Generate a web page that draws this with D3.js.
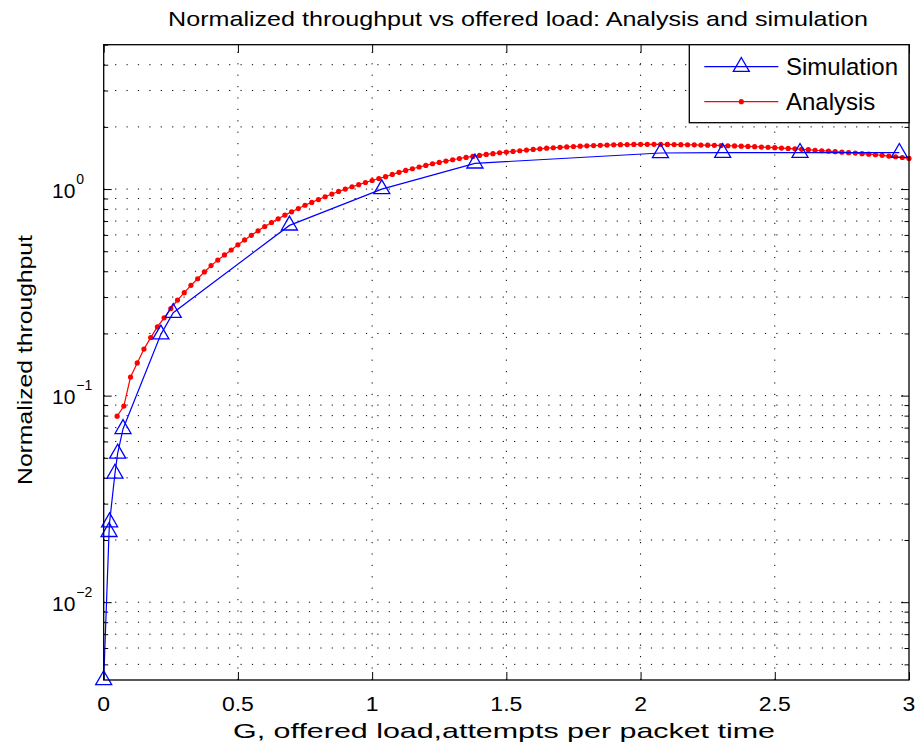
<!DOCTYPE html>
<html><head><meta charset="utf-8">
<script src="https://cdn.jsdelivr.net/npm/d3@7"></script>
<style>
body{margin:0;background:#fff;}
text{font-family:"Liberation Sans",Arial,Helvetica,sans-serif;fill:#000;}
</style></head><body>
<svg id="chart" width="919" height="748"></svg>
<script>
// Analysis curve: offered load G and normalized throughput S
const analysisG = [
  0.05,0.075,0.1,0.125,0.15,0.175,0.2,0.225,0.25,0.275,
  0.3,0.325,0.35,0.375,0.4,0.425,0.45,0.475,0.5,0.525,
  0.55,0.575,0.6,0.625,0.65,0.675,0.7,0.725,0.75,0.775,
  0.8,0.825,0.85,0.875,0.9,0.925,0.95,0.975,1.0,1.025,
  1.05,1.075,1.1,1.125,1.15,1.175,1.2,1.225,1.25,1.275,
  1.3,1.325,1.35,1.375,1.4,1.425,1.45,1.475,1.5,1.525,
  1.55,1.575,1.6,1.625,1.65,1.675,1.7,1.725,1.75,1.775,
  1.8,1.825,1.85,1.875,1.9,1.925,1.95,1.975,2.0,2.025,
  2.05,2.075,2.1,2.125,2.15,2.175,2.2,2.225,2.25,2.275,
  2.3,2.325,2.35,2.375,2.4,2.425,2.45,2.475,2.5,2.525,
  2.55,2.575,2.6,2.625,2.65,2.675,2.7,2.725,2.75,2.775,
  2.8,2.825,2.85,2.875,2.9,2.925,2.95,2.975,3.0
];
const analysisS = [
  0.0795,0.089,0.123,0.144,0.168,0.191,0.215,0.238,0.264,0.290,
  0.315,0.342,0.368,0.397,0.426,0.453,0.480,0.507,0.537,0.567,
  0.597,0.628,0.659,0.689,0.718,0.748,0.776,0.805,0.835,0.862,
  0.890,0.918,0.946,0.974,1.000,1.026,1.050,1.076,1.100,1.125,
  1.148,1.178,1.205,1.231,1.254,1.279,1.302,1.326,1.346,1.367,
  1.387,1.406,1.423,1.439,1.455,1.471,1.484,1.499,1.511,1.522,
  1.533,1.545,1.556,1.567,1.577,1.585,1.592,1.600,1.607,1.613,
  1.619,1.624,1.628,1.633,1.637,1.640,1.643,1.645,1.646,1.646,
  1.646,1.646,1.645,1.643,1.641,1.639,1.637,1.634,1.631,1.628,
  1.625,1.621,1.617,1.613,1.609,1.604,1.598,1.592,1.586,1.580,
  1.574,1.567,1.558,1.551,1.542,1.533,1.525,1.517,1.509,1.500,
  1.493,1.484,1.476,1.466,1.456,1.445,1.434,1.422,1.408
];

// Simulation results
const simG = [0, 0.020, 0.022, 0.042, 0.052, 0.072, 0.213, 0.259, 0.692, 1.036, 1.383, 2.074, 2.306, 2.594, 2.964];
const simS = [0.0042, 0.0219, 0.0244, 0.042, 0.0525, 0.069, 0.198, 0.252, 0.667, 1.0, 1.332, 1.495, 1.50, 1.50, 1.50];

const xTicks = [0, 0.5, 1, 1.5, 2, 2.5, 3];
const xTickLabels = ["0", "0.5", "1", "1.5", "2", "2.5", "3"];
const yMajor = [0.01, 0.1, 1];
const yMajorExp = ["\u22122", "\u22121", "0"];

const svg = d3.select("#chart");
svg.append("rect").attr("width", 919).attr("height", 748).attr("fill", "#fff");

const L = 103.7, R = 909, T = 44.7, B = 680;
const x = d3.scaleLinear().domain([0, 3]).range([L, R]);
const y = d3.scaleLog().domain([0.0042, 5]).range([B, T]);

const allY = y.ticks();                       // 1..9 x 10^n inside the domain
const minorY = allY.filter(v => !yMajor.some(m => Math.abs(m - v) < 1e-12));

// dotted grid
const grid = svg.append("g").attr("stroke", "#000").attr("stroke-width", 1)
  .attr("stroke-dasharray", "1.2,10.2").attr("fill", "none");
grid.selectAll("line.gx").data(xTicks.slice(1, -1)).join("line")
  .attr("x1", d => x(d)).attr("x2", d => x(d)).attr("y1", B).attr("y2", T);
grid.selectAll("line.gy").data(allY.filter(v => y(v) > T + 1)).join("line")
  .attr("class", "gy")
  .attr("x1", L).attr("x2", R).attr("y1", d => y(d)).attr("y2", d => y(d));

// axes with inward ticks on all four sides
const axStyle = g => { g.select(".domain").remove(); g.selectAll(".tick line").attr("stroke", "#000").attr("stroke-width", 1); };
svg.append("g").attr("transform", `translate(0,${B})`)
  .call(d3.axisBottom(x).tickValues(xTicks).tickSizeInner(-8).tickSizeOuter(0).tickFormat("")).call(axStyle);
svg.append("g").attr("transform", `translate(0,${T})`)
  .call(d3.axisTop(x).tickValues(xTicks).tickSizeInner(-8).tickSizeOuter(0).tickFormat("")).call(axStyle);
svg.append("g").attr("transform", `translate(${L},0)`)
  .call(d3.axisLeft(y).tickValues(yMajor).tickSizeInner(-8).tickSizeOuter(0).tickFormat("")).call(axStyle);
svg.append("g").attr("transform", `translate(${L},0)`)
  .call(d3.axisLeft(y).tickValues(minorY).tickSizeInner(-4.5).tickSizeOuter(0).tickFormat("")).call(axStyle);
svg.append("g").attr("transform", `translate(${R},0)`)
  .call(d3.axisRight(y).tickValues(yMajor).tickSizeInner(-8).tickSizeOuter(0).tickFormat("")).call(axStyle);
svg.append("g").attr("transform", `translate(${R},0)`)
  .call(d3.axisRight(y).tickValues(minorY).tickSizeInner(-4.5).tickSizeOuter(0).tickFormat("")).call(axStyle);

// x tick labels (slightly wide lettering)
svg.append("g").selectAll("text").data(xTicks).join("text")
  .attr("transform", d => `translate(${x(d)},711) scale(1.18,1)`).attr("text-anchor", "middle")
  .attr("font-size", 19.5).text((d, i) => xTickLabels[i]);

// y tick labels: 10 with superscript exponent
const yl = svg.append("g").selectAll("text").data(yMajor).join("text")
  .attr("x", 52).attr("y", d => y(d) + 8.5).attr("font-size", 21);
yl.append("tspan").text("10");
yl.append("tspan").attr("font-size", 14).attr("dy", -14).attr("dx", 1).text((d, i) => yMajorExp[i]);

// analysis curve
const lineA = d3.line().x(d => x(d[0])).y(d => y(d[1]));
const aData = analysisG.map((g, i) => [g, analysisS[i]]);
svg.append("path").datum(aData).attr("d", lineA).attr("fill", "none")
  .attr("stroke", "#ff0000").attr("stroke-width", 1.2);
svg.append("g").selectAll("circle").data(aData).join("circle")
  .attr("cx", d => x(d[0])).attr("cy", d => y(d[1])).attr("r", 2.6).attr("fill", "#ff0000");

// simulation curve
const sData = simG.map((g, i) => [g, simS[i]]);
svg.append("path").datum(sData).attr("d", lineA).attr("fill", "none")
  .attr("stroke", "#0000ff").attr("stroke-width", 1.2);
const tri = d3.symbol().type(d3.symbolTriangle).size(111);
svg.append("g").selectAll("path").data(sData).join("path")
  .attr("transform", d => `translate(${x(d[0])},${y(d[1])})`).attr("d", tri)
  .attr("fill", "none").attr("stroke", "#0000ff").attr("stroke-width", 1.3);

// frame
svg.append("rect").attr("x", L).attr("y", T).attr("width", R - L).attr("height", B - T)
  .attr("fill", "none").attr("stroke", "#000").attr("stroke-width", 1.3);

// legend
const lg = svg.append("g");
lg.append("rect").attr("x", 689.3).attr("y", T).attr("width", R - 689.3).attr("height", 78)
  .attr("fill", "#fff").attr("stroke", "#000").attr("stroke-width", 1.3);
const rows = [{name: "Simulation", color: "#0000ff", mark: "tri", yy: 66.7},
              {name: "Analysis", color: "#ff0000", mark: "dot", yy: 101.7}];
rows.forEach(r => {
  lg.append("line").attr("x1", 704.3).attr("x2", 778.3).attr("y1", r.yy).attr("y2", r.yy)
    .attr("stroke", r.color).attr("stroke-width", 1.2);
  if (r.mark === "tri") {
    lg.append("path").attr("transform", `translate(741.3,${r.yy})`).attr("d", tri)
      .attr("fill", "none").attr("stroke", r.color).attr("stroke-width", 1.3);
  } else {
    lg.append("circle").attr("cx", 741.3).attr("cy", r.yy).attr("r", 2.6).attr("fill", r.color);
  }
  lg.append("text").attr("x", 786).attr("y", r.yy + 8.7).attr("font-size", 24).text(r.name);
});

// titles: glyphs widened horizontally to span the given length
function wideText(str, size, width, place) {
  const t = svg.append("text").attr("text-anchor", "middle").attr("font-size", size).text(str);
  const sx = width / t.node().getComputedTextLength();
  t.attr("transform", `${place} scale(${sx},1)`);
  return t;
}
wideText("Normalized throughput vs offered load: Analysis and simulation", 20, 700, "translate(518,25.5)");
wideText("G, offered load,attempts per packet time", 21, 542, "translate(504,738)");
wideText("Normalized throughput", 21, 250, "translate(31.5,360) rotate(-90)");
</script>
</body></html>
